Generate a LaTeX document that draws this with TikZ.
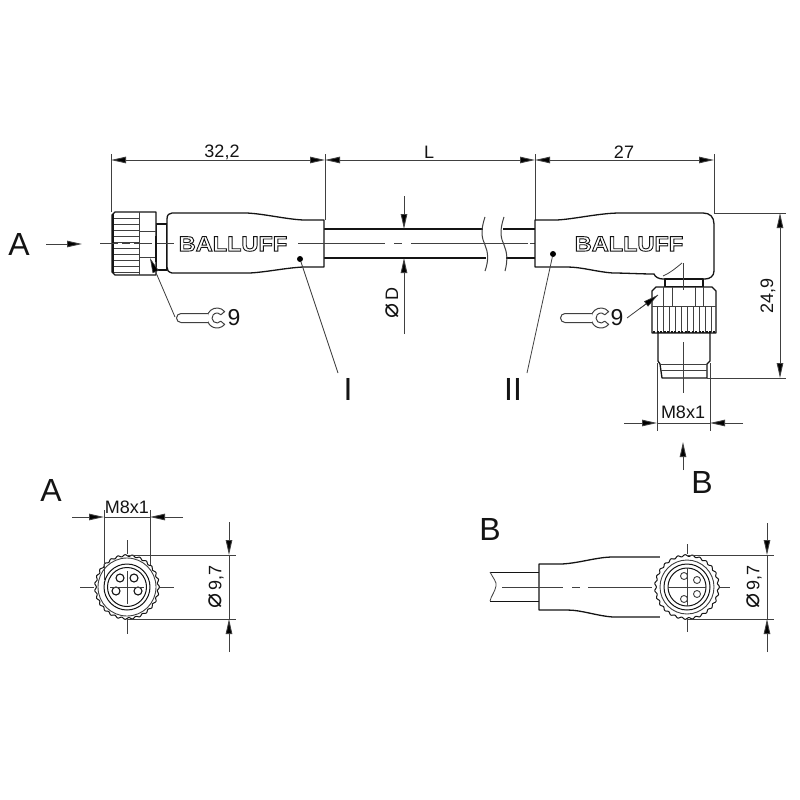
\documentclass[tikz,border=0pt]{standalone}
\usepackage{fontspec}
\usetikzlibrary{arrows.meta}
\setmainfont{Liberation Sans}
\newfontfamily\dejavu{DejaVu Sans}
\newfontfamily\logofont[FakeStretch=1.12]{Liberation Sans Bold}
\definecolor{ink}{gray}{0.08}
\definecolor{thinink}{gray}{0.25}
\newcommand{\logotext}{\logofont\special{pdf:code q 1 Tr 0.9 w 0.08 G}BALLUFF\special{pdf:code Q}}
\newcommand{\phisign}{{\dejavu\fontsize{25}{25}\selectfont\char"2300}\,}
\tikzset{
  outline/.style={draw=ink,line width=1.3pt,line join=round},
  fine/.style={draw=thinink,line width=0.8pt},
  ext/.style={draw=thinink,line width=0.8pt},
  dimline/.style={draw=thinink,line width=0.9pt},
  tip/.style={-{Triangle[length=15pt,width=6.5pt,fill=black]}},
  tiptwo/.style={{Triangle[length=15pt,width=6.5pt,fill=black]}-{Triangle[length=15pt,width=6.5pt,fill=black]}},
  dimtext/.style={font=\fontsize{18}{18}\selectfont,text=ink,inner sep=0pt},
  phitext/.style={font=\fontsize{18}{18}\selectfont,text=ink,inner sep=0pt},
  bigtext/.style={font=\fontsize{32}{32}\selectfont,text=ink,inner sep=0pt},
  wrenchnum/.style={font=\fontsize{23}{23}\selectfont,text=ink,inner sep=0pt},
  logo/.style={font=\fontsize{21}{21}\selectfont,inner sep=0pt},
  dotmark/.style={circle,fill=black,inner sep=0pt,minimum size=6pt},
  wrench/.pic={
    \draw[fine,line width=1pt,line join=round,fill=white]
      (-40:10) arc[start angle=-40,end angle=-320,radius=10]
      -- (40:5) arc[start angle=40,end angle=320,radius=5] -- cycle;
    \fill[white] (-9,-4.5) rectangle (-36,4.5);
    \draw[fine,line width=1pt] (-8.8,-4.5)--(-36,-4.5) arc[start angle=-90,end angle=-270,radius=4.5] --(-8.8,4.5);
  }
}
\begin{document}
\begin{tikzpicture}[x=1pt,y=-1pt]
\useasboundingbox[fill=white] (0,0) rectangle (800,800);

% ---------- top dimension chain ----------
\coordinate (t1) at (111,160); \coordinate (t2) at (325,160);
\coordinate (t3) at (535,160); \coordinate (t4) at (714,160);
\coordinate (t1a) at (111,154); \coordinate (t1b) at (111,212);
\coordinate (t2a) at (325,154); \coordinate (t2b) at (325,220);
\coordinate (t3a) at (535,154); \coordinate (t3b) at (535,220);
\coordinate (t4a) at (714,154); \coordinate (t4b) at (714,214);
\draw[ext] (t1a)--(t1b) (t2a)--(t2b) (t3a)--(t3b) (t4a)--(t4b);
\draw[dimline,tiptwo] (t1)--(t2);
\draw[dimline,tiptwo] (t2)--(t3);
\draw[dimline,tiptwo] (t3)--(t4);
\node[dimtext] (l322) at (222,152) {32,2};
\node[dimtext] (lL) at (429,152) {L};
\node[dimtext] (l27) at (624,152) {27};

% ---------- cable ----------
\draw[outline] (324,229)--(483,229) (324,258)--(486,258);
\draw[outline] (503,229)--(535,229) (506,258)--(535,258);
\draw[fine,line width=1pt] (485,217) .. controls (480,232) and (482,238) .. (485,245) .. controls (488,252) and (489,260) .. (485,271);
\draw[fine,line width=1pt] (504,217) .. controls (499,232) and (501,238) .. (504,245) .. controls (507,252) and (508,260) .. (505,271);

% ---------- left connector ----------
\draw[outline,fill=white] (156,224)--(167,224)--(167,270)--(156,270)--cycle;
\draw[outline,fill=white] (115,212)--(156,212)--(156,275)--(115,275)--(112,272)--(112,215)--cycle;
\draw[fine] (139,212)--(139,275) (139,231)--(156,231) (139,257)--(156,257);
\foreach \yy in {218,224,230,236,242,248,254,260,266,272}{\draw[fine] (113,\yy)--(139,\yy);}
\draw[draw=ink,line width=1.6pt] (113,214)--(113,273);
\draw[draw=ink,line width=1.4pt] (156,236)--(156,262);
\draw[outline,fill=white] (172,213)--(247,213) .. controls (265,214) and (285,219) .. (303,220) -- (324,220)--(324,267)--(303,267) .. controls (285,268) and (267,272) .. (250,273)--(172,273) .. controls (168,272) and (167,270) .. (167,267)--(167,219) .. controls (167,215) and (169,213) .. (172,213) -- cycle;
\node[logo] (logoL) at (233,244) {\logotext};

% centre lines
\draw[fine] (100,243)--(118,243) (122,243)--(130,243) (134,243)--(152,243) (157,243)--(174,243);
\draw[fine] (298,243)--(385,243) (394,243)--(402,243) (411,243)--(528,243);
\draw[fine] (530,243)--(538,243) (546,243)--(563,243);

% ---------- right connector ----------
\draw[outline,fill=white] (535,220)--(557,220) .. controls (575,219) and (600,213) .. (620,213)--(703,213) .. controls (710,213) and (714,217) .. (714,224)--(714,271) .. controls (714,276) and (710,279) .. (705,279)--(663,279) .. controls (659,279) and (655,277) .. (654,274) .. controls (640,274) and (625,273) .. (613,273) .. controls (597,272) and (582,267) .. (567,267)--(535,267)--cycle;
\draw[fine] (663,276) .. controls (670,273) and (676,268) .. (682,263);
\node[logo] (logoR) at (629,244) {\logotext};
\draw[outline,fill=white] (665,279)--(703,279)--(703,287)--(665,287)--cycle;
\draw[outline,fill=white] (656,287)--(712,287)--(716,291)--(716,333)--(652,333)--(652,291)--cycle;
\draw[fine] (652,306)--(716,306);
\draw[fine] (663,287)--(663,306) (672,287)--(672,306) (695,287)--(695,306) (703,287)--(703,306);
\foreach \xx in {657,663,669,675,681,687,693,699,705,711}{\draw[fine] (\xx,306)--(\xx,333);}
\draw[draw=ink,line width=1.8pt,dash pattern=on 2pt off 1.5pt] (653,332)--(716,332);
\draw[outline,fill=white] (658,333)--(710,333)--(710,361)--(707,364)--(707,378)--(662,378)--(660,364)--(658,361)--cycle;
\draw[fine] (660,364)--(707,364) (661,370)--(707,370);
\draw[fine] (683,263)--(683,290) (683,342)--(683,393);

% ---------- D dimension ----------
\coordinate (da) at (404,196); \coordinate (db) at (404,229);
\coordinate (dc) at (404,334); \coordinate (dd) at (404,258);
\draw[dimline,tip] (da)--(db);
\draw[dimline,tip] (dc)--(dd);
\node[phitext,rotate=90] (lD) at (392,303) {\phisign D};

% ---------- 24,9 dimension ----------
\coordinate (ra1) at (714,213); \coordinate (ra2) at (786,213);
\coordinate (rb1) at (707,378); \coordinate (rb2) at (786,378);
\coordinate (ru) at (780,213); \coordinate (rd) at (780,378);
\draw[ext] (ra1)--(ra2) (rb1)--(rb2);
\draw[dimline,tiptwo] (ru)--(rd);
\node[dimtext,rotate=90] (l249) at (768,296) {24,9};

% ---------- M8x1 right ----------
\coordinate (m1) at (657,363); \coordinate (m1b) at (657,431);
\coordinate (m2) at (710,363); \coordinate (m2b) at (710,431);
\coordinate (m1o) at (624,423); \coordinate (m1i) at (657,423);
\coordinate (m2o) at (743,423); \coordinate (m2i) at (710,423);
\draw[ext] (m1)--(m1b) (m2)--(m2b);
\draw[dimline] (m1i)--(m2i);
\draw[dimline,tip] (m1o)--(m1i);
\draw[dimline,tip] (m2o)--(m2i);
\node[dimtext] (lM1) at (683,412) {M8x1};

% ---------- view labels and arrows ----------
\node[bigtext] (lA) at (19,244) {A};
\coordinate (aa) at (46,244); \coordinate (ab) at (82,244);
\draw[dimline,tip] (aa)--(ab);
\coordinate (ba) at (683,470); \coordinate (bb) at (683,442);
\draw[dimline,tip] (ba)--(bb);
\node[bigtext] (lB) at (702,482) {B};
\node[bigtext] (lA2) at (51,490) {A};
\node[bigtext] (lB2) at (490,529) {B};

% ---------- leaders I / II ----------
\node[dotmark] (dotI) at (300,259) {};
\node[dotmark] (dotII) at (553,254) {};
\node[bigtext] (lI) at (348,389) {I};
\node[bigtext] (lII) at (513,389) {II};
\coordinate (lIe) at (338,373); \coordinate (lIIe) at (527,373);
\draw[fine] (dotI)--(lIe);
\draw[fine] (dotII)--(lIIe);

% ---------- wrench marks ----------
\pic at (217,318) {wrench};
\node[wrenchnum] (n9L) at (234,318) {9};
\coordinate (wl1) at (175,317); \coordinate (wl2) at (150,258);
\draw[fine] (wl1)--(157,275);
\draw[dimline,tip,line width=0.6pt] (157,275)--(wl2);

\pic at (601,318) {wrench};
\node[wrenchnum] (n9R) at (617,318) {9};
\coordinate (wr1) at (627,318); \coordinate (wr2) at (658,295);
\draw[fine] (wr1)--(wr2);
\draw[dimline,tip,line width=0.6pt] (640,308.5)--(wr2);

% ---------- view A ----------
\begin{scope}[shift={(127,587)}]
\draw[outline,fill=white,line width=1pt] plot[domain=0:360,samples=217,smooth] ({(31.5+0.9*cos(27*\x))*cos(\x)},{(31.5+0.9*cos(27*\x))*sin(\x)}) -- cycle;
\draw[fine,line width=0.9pt] (0,0) circle[radius=29];
\draw[outline,line width=1pt] (0,0) circle[radius=23];
\draw[outline,line width=1pt] (0,0) circle[radius=19.5];
\foreach \cx/\cy in {-7/-9,7/-9,-11/4,11/4}{\draw[outline,fill=white,line width=1.1pt] (\cx,\cy) circle[radius=4];}
\draw[fine] (0,-47)--(0,-33) (0,-16)--(0,17) (0,33)--(0,47);
\draw[fine] (-47,0)--(-33,0) (-17,0)--(17,0) (33,0)--(47,0);
\end{scope}
\coordinate (am1) at (104,510); \coordinate (am1b) at (104,580);
\coordinate (am2) at (150,510); \coordinate (am2b) at (150,565);
\coordinate (amo1) at (72,517); \coordinate (ami1) at (104,517);
\coordinate (amo2) at (183,517); \coordinate (ami2) at (150,517);
\draw[ext] (am1)--(am1b) (am2)--(am2b);
\draw[dimline] (ami1)--(ami2);
\draw[dimline,tip] (amo1)--(ami1);
\draw[dimline,tip] (amo2)--(ami2);
\node[dimtext] (lM2) at (127,507) {M8x1};
\coordinate (ae1) at (127,555); \coordinate (ae1b) at (236,555);
\coordinate (ae2) at (127,619); \coordinate (ae2b) at (236,619);
\draw[ext] (ae1)--(ae1b) (ae2)--(ae2b);
\coordinate (ad1) at (229,522); \coordinate (ad1t) at (229,555);
\coordinate (ad2) at (229,652); \coordinate (ad2t) at (229,619);
\draw[dimline,tip] (ad1)--(ad1t);
\draw[dimline,tip] (ad2)--(ad2t);
\draw[dimline] (ad1t)--(ad2t);
\node[phitext,rotate=90] (l97a) at (216,587) {\phisign 9,7};

% ---------- view B ----------
\draw[outline,line width=1pt] (490,572)--(539,572) (490,601)--(539,601);
\draw[fine] (490,572) .. controls (493,578) and (497,582) .. (496,586) .. controls (495,592) and (491,596) .. (490,601);
\draw[outline,fill=white] (539,564)--(562,564) .. controls (580,563) and (597,557) .. (613,557)--(680,557)--(680,617)--(613,617) .. controls (597,616) and (582,610) .. (567,610)--(539,610)--cycle;
\draw[draw=white,line width=3pt] (660,557.8)--(680,557.8) (660,616.2)--(680,616.2);
\begin{scope}[shift={(687,587)}]
\draw[outline,fill=white,line width=1pt] plot[domain=0:360,samples=217,smooth] ({(31.5+0.9*cos(27*\x))*cos(\x)},{(31.5+0.9*cos(27*\x))*sin(\x)}) -- cycle;
\draw[fine,line width=0.9pt] (0,0) circle[radius=27];
\draw[outline,line width=1pt] (0,0) circle[radius=23];
\draw[outline,line width=1pt] (0,0) circle[radius=19];
\foreach \cx/\cy in {-3/-11,10/-7,10/7,-3/12}{\draw[fine,line width=0.9pt,fill=white] (\cx,\cy) circle[radius=3.5];}
\draw[fine] (0,-43)--(0,-33) (0,-19)--(0,19) (0,33)--(0,45);
\draw[fine] (-19,0)--(19,0) (33,0)--(43,0);
\end{scope}
\draw[fine] (502,587)--(563,587) (572,587)--(580,587) (588,587)--(652,587);
\coordinate (be1) at (687,555); \coordinate (be1b) at (774,555);
\coordinate (be2) at (687,619); \coordinate (be2b) at (774,619);
\draw[ext] (be1)--(be1b) (be2)--(be2b);
\coordinate (bd1) at (767,523); \coordinate (bd1t) at (767,555);
\coordinate (bd2) at (767,652); \coordinate (bd2t) at (767,619);
\draw[dimline,tip] (bd1)--(bd1t);
\draw[dimline,tip] (bd2)--(bd2t);
\draw[dimline] (bd1t)--(bd2t);
\node[phitext,rotate=90] (l97b) at (754,587) {\phisign 9,7};
\end{tikzpicture}
\end{document}
